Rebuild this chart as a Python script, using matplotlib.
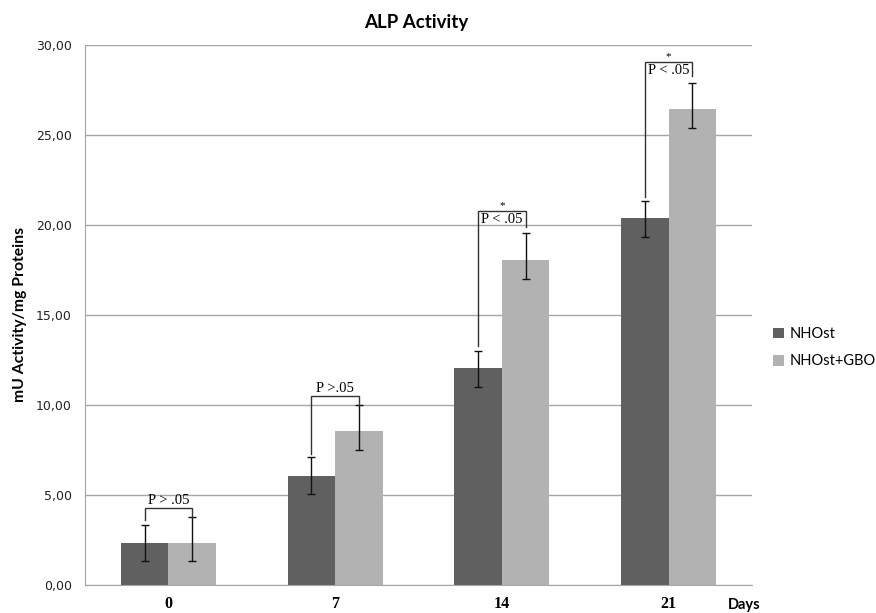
import matplotlib
matplotlib.use("Agg")
import matplotlib.pyplot as plt
import numpy as np

days = ["0", "7", "14", "21"]
series_names = ["NHOst", "NHOst+GBO"]
nhost = [2.33, 6.07, 12.07, 20.37]
nhost_gbo = [2.33, 8.55, 18.05, 26.43]
nhost_err_low = [1.0, 1.0, 1.05, 1.02]
nhost_err_high = [1.0, 1.03, 0.95, 0.96]
gbo_err_low = [0.98, 1.05, 1.05, 1.03]
gbo_err_high = [1.47, 1.45, 1.49, 1.47]

# significance annotations
sig_labels = ["P > .05", "P >.05", "P < .05", "P < .05"]
sig_star = [False, False, True, True]
bracket_top = [4.3, 10.5, 20.8, 29.06]
left_leg_bottom = [3.6, 7.3, 13.3, 21.55]
right_leg_bottom = [3.8, 10.0, 19.9, 28.3]

yticks = [0, 5, 10, 15, 20, 25, 30]
ytick_labels = ["0,00", "5,00", "10,00", "15,00", "20,00", "25,00", "30,00"]

dark = "#606060"
light = "#b2b2b2"
grid_c = "#a6a6a6"

fig = plt.figure(figsize=(8.76, 6.13), dpi=100)
ax = fig.add_axes([85 / 876, 1 - 585 / 613, (752 - 85) / 876, (585 - 45) / 613])

x = np.arange(len(days))
w = 0.285
ax.bar(x - w / 2, nhost, w, color=dark, label=series_names[0], zorder=2)
ax.bar(x + w / 2, nhost_gbo, w, color=light, label=series_names[1], zorder=2)
ax.errorbar(x - w / 2, nhost, yerr=[nhost_err_low, nhost_err_high], fmt="none",
            ecolor="#111111", elinewidth=1.0, capsize=3, capthick=1.0, zorder=3)
ax.errorbar(x + w / 2, nhost_gbo, yerr=[gbo_err_low, gbo_err_high], fmt="none",
            ecolor="#111111", elinewidth=1.0, capsize=3, capthick=1.0, zorder=3)

for i in range(len(days)):
    xl, xr = x[i] - w / 2, x[i] + w / 2
    top = bracket_top[i]
    ax.plot([xl, xl, xr, xr], [left_leg_bottom[i], top, top, right_leg_bottom[i]],
            color="#333333", lw=1.0, zorder=4, solid_joinstyle="miter")
    if sig_star[i]:
        ax.text(x[i], top - 0.12, sig_labels[i], ha="center", va="top",
                family="Liberation Serif", fontsize=10.5, zorder=5)
        ax.text(x[i], top + 0.05, "*", ha="center", va="bottom",
                family="Liberation Serif", fontsize=8, zorder=5)
    else:
        ax.text(x[i], top + 0.05, sig_labels[i], ha="center", va="bottom",
                family="Liberation Serif", fontsize=10.5, zorder=5)

ax.set_xlim(-0.5, 3.5)
ax.set_ylim(0, 30)
ax.set_yticks(yticks)
ax.set_yticklabels(ytick_labels, family="DejaVu Sans", fontsize=9, color="#222222")
ax.set_xticks(x)
ax.set_xticklabels(days, family="Liberation Serif", fontweight="bold", fontsize=11.5)
ax.tick_params(axis="both", length=0)
ax.tick_params(axis="y", pad=9.5)
ax.tick_params(axis="x", pad=8)
ax.yaxis.grid(True, color=grid_c, lw=1.0, zorder=0)
ax.set_axisbelow(True)
for s in ["top", "right"]:
    ax.spines[s].set_visible(False)
ax.spines["left"].set_color(grid_c)
ax.spines["bottom"].set_color(grid_c)

ax.set_ylabel("mU Activity/mg Proteins", family="Lato", fontweight="bold", fontsize=11.3)
ax.yaxis.set_label_coords(-58 / 667, (585 - 314) / 540)
fig.text(0.5 * (362 + 470) / 876, 1 - 28 / 613, "ALP Activity", ha="center", va="baseline",
         family="Lato", fontweight="bold", fontsize=13.5)
fig.text(728 / 876, 1 - 609 / 613, "Days", ha="left", va="baseline",
         family="Lato", fontweight="bold", fontsize=10.5)

leg = fig.legend(loc="upper left", bbox_to_anchor=(760 / 876, 1 - 314 / 613),
                 frameon=False, prop={"family": "Lato", "size": 10.5},
                 handlelength=0.75, handleheight=0.75, handletextpad=0.4,
                 labelspacing=0.9)

fig.savefig("out.png", dpi=100)
